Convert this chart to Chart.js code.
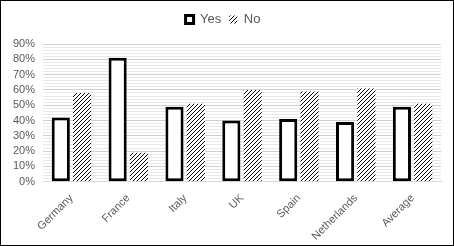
<!DOCTYPE html>
<html>
<head>
<meta charset="utf-8">
<script src="https://cdn.jsdelivr.net/npm/chart.js@4"></script>
<style>
  html, body { margin: 0; padding: 0; background: #fff; }
  #wrap { width: 454px; height: 246px; border: 1px solid #000; box-sizing: border-box; }
</style>
</head>
<body>
<div id="wrap"><canvas id="barChart" width="452" height="244"></canvas></div>
<script>
const countries = ["Germany", "France", "Italy", "UK", "Spain", "Netherlands", "Average"];
const yesValues = [42, 81, 49, 40, 41, 39, 49];
const noValues = [58, 19, 51, 60, 59, 61, 51];

// diagonal hatch for the "No" bars
function makeHatch() {
  const c = document.createElement("canvas");
  c.width = 4;
  c.height = 4;
  const g = c.getContext("2d");
  g.fillStyle = "#fff";
  g.fillRect(0, 0, 4, 4);
  g.fillStyle = "#000";
  g.fillRect(0, 3, 1, 1);
  g.fillRect(1, 2, 1, 1);
  g.fillRect(2, 1, 1, 1);
  g.fillRect(3, 0, 1, 1);
  return g.createPattern(c, "repeat");
}

const ctx = document.getElementById("barChart").getContext("2d");
const hatch = makeHatch();

// extra room under the legend
const legendGap = {
  id: "legendGap",
  beforeInit(chart) {
    const fit = chart.legend.fit;
    chart.legend.fit = function () {
      fit.bind(chart.legend)();
      this.height += 8;
    };
  }
};

new Chart(ctx, {
  type: "bar",
  data: {
    labels: countries,
    datasets: [
      {
        label: "Yes",
        data: yesValues,
        backgroundColor: "#fff",
        borderColor: "#000",
        borderWidth: 3,
        borderSkipped: false
      },
      {
        label: "No",
        data: noValues,
        backgroundColor: hatch,
        borderWidth: 0
      }
    ]
  },
  plugins: [legendGap],
  options: {
    responsive: false,
    animation: false,
    layout: { padding: { left: 4, right: 12, top: 4, bottom: 0 } },
    datasets: { bar: { categoryPercentage: 0.75, barPercentage: 0.85 } },
    plugins: {
      tooltip: { enabled: false },
      legend: {
        position: "top",
        labels: {
          boxWidth: 8,
          boxHeight: 8,
          padding: 8,
          color: "#595959",
          font: { family: "Liberation Sans, Arial", size: 13 },
          generateLabels: function (chart) {
            return chart.data.datasets.map((ds, i) => ({
              text: ds.label,
              fillStyle: i === 0 ? "#fff" : hatch,
              strokeStyle: "#000",
              lineWidth: i === 0 ? 3 : 0,
              fontColor: "#595959",
              datasetIndex: i
            }));
          }
        }
      }
    },
    scales: {
      x: {
        grid: { display: false },
        border: { color: "#d9d9d9" },
        ticks: {
          color: "#595959",
          font: { family: "Liberation Sans, Arial", size: 11 },
          maxRotation: 45,
          minRotation: 45,
          padding: 2
        }
      },
      y: {
        min: 0,
        max: 90,
        border: { display: false },
        grid: {
          color: function (c) {
            return c.tick.value % 10 === 0 ? "#d0d0d0" : "#e8e8e8";
          },
          drawTicks: false
        },
        ticks: {
          stepSize: 2,
          padding: 8,
          autoSkip: false,
          color: "#595959",
          font: { family: "Liberation Sans, Arial", size: 11 },
          callback: function (v) {
            return v % 10 === 0 ? v + "%" : "";
          }
        }
      }
    }
  }
});
</script>
</body>
</html>
